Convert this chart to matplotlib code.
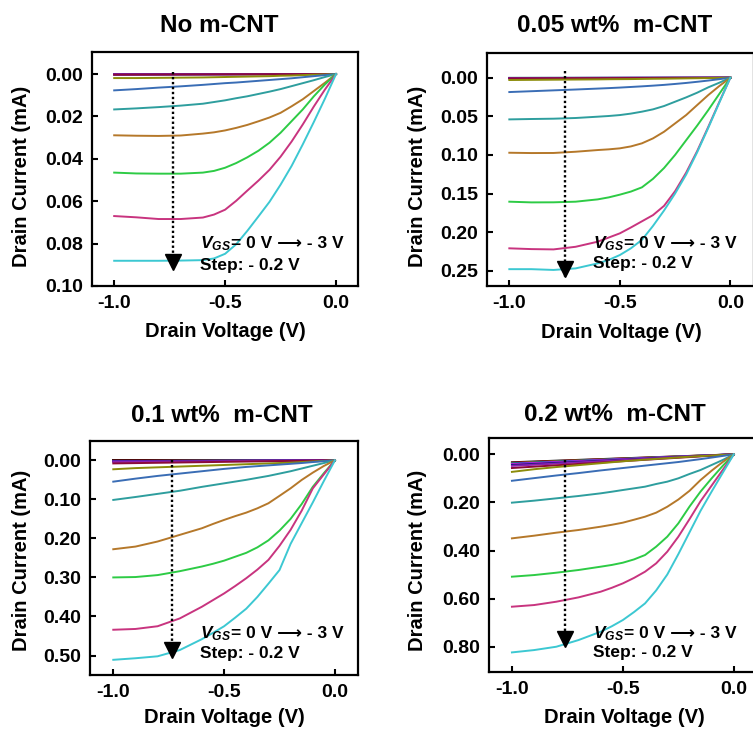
import matplotlib
matplotlib.use("Agg")
import matplotlib.pyplot as plt
from matplotlib.transforms import offset_copy

# 字体: Arial 风格粗体
plt.rcParams["font.family"] = ["Liberation Sans", "DejaVu Sans"]
plt.rcParams["font.weight"] = "bold"
plt.rcParams["axes.unicode_minus"] = False
plt.rcParams["mathtext.fontset"] = "custom"
plt.rcParams["mathtext.it"] = "Liberation Sans:italic:bold"
plt.rcParams["mathtext.rm"] = "Liberation Sans:bold"

# drain voltage grid (V)
vd = [-1.0, -0.9, -0.8, -0.7, -0.6, -0.55, -0.5, -0.45, -0.4, -0.35, -0.3, -0.25, -0.2, -0.15, -0.1, -0.05, 0.0]
vd_ends = [-1.0, 0.0]

titles = ["No m-CNT", "0.05 wt%  m-CNT", "0.1 wt%  m-CNT", "0.2 wt%  m-CNT"]

# VGS = 0 ~ -1.4 V: nearly flat curves, current at Vd = -1 V (mA)
p1_leak = [0.0, 0.0, 0.0001, 0.0001, 0.0001, 0.0002, 0.0002, 0.0003]
p2_leak = [0.0, 0.0, 0.0002, 0.0003, 0.0004, 0.0005, 0.0006, 0.0010]
p3_leak = [0.0, 0.001, 0.002, 0.002, 0.003, 0.003, 0.004, 0.008]
p4_leak = [0.033, 0.035, 0.037, 0.039, 0.041, 0.044, 0.048, 0.057]

# No m-CNT, VGS = -1.8 ... -3.0 V (mA)
p1_vg18 = [0.0019, 0.0019, 0.0018, 0.0017, 0.0016, 0.0015, 0.0014, 0.0013, 0.0012, 0.0011, 0.0010, 0.0008, 0.0007, 0.0005, 0.0003, 0.0002, 0.0]
p1_vg20 = [0.0077, 0.0071, 0.0064, 0.0058, 0.0051, 0.0047, 0.0043, 0.0040, 0.0036, 0.0032, 0.0028, 0.0024, 0.0020, 0.0015, 0.0010, 0.0005, 0.0]
p1_vg22 = [0.0167, 0.0162, 0.0156, 0.0149, 0.0140, 0.0132, 0.0124, 0.0114, 0.0105, 0.0094, 0.0083, 0.0071, 0.0057, 0.0043, 0.0029, 0.0014, 0.0]
p1_vg24 = [0.0289, 0.0291, 0.0292, 0.0290, 0.0281, 0.0275, 0.0266, 0.0254, 0.0240, 0.0223, 0.0205, 0.0183, 0.0152, 0.0119, 0.0080, 0.0041, 0.0]
p1_vg26 = [0.0465, 0.0469, 0.0470, 0.0470, 0.0465, 0.0457, 0.0442, 0.0420, 0.0393, 0.0362, 0.0324, 0.0277, 0.0222, 0.0167, 0.0105, 0.0049, 0.0]
p1_vg28 = [0.0670, 0.0676, 0.0684, 0.0684, 0.0677, 0.0663, 0.0640, 0.0598, 0.0550, 0.0503, 0.0452, 0.0390, 0.0318, 0.0238, 0.0153, 0.0073, 0.0]
p1_vg30 = [0.0881, 0.0881, 0.0881, 0.0880, 0.0878, 0.0870, 0.0848, 0.0803, 0.0740, 0.0672, 0.0603, 0.0522, 0.0433, 0.0332, 0.0226, 0.0116, 0.0]

# 0.05 wt% m-CNT
p2_vg18 = [0.0030, 0.0028, 0.0026, 0.0024, 0.0022, 0.0020, 0.0019, 0.0018, 0.0016, 0.0014, 0.0013, 0.0011, 0.0009, 0.0007, 0.0005, 0.0002, 0.0]
p2_vg20 = [0.0186, 0.0175, 0.0164, 0.0153, 0.0141, 0.0135, 0.0128, 0.0120, 0.0112, 0.0103, 0.0093, 0.0081, 0.0068, 0.0053, 0.0037, 0.0019, 0.0]
p2_vg22 = [0.0540, 0.0535, 0.0531, 0.0522, 0.0505, 0.0496, 0.0484, 0.0465, 0.0440, 0.0410, 0.0367, 0.0311, 0.0255, 0.0194, 0.0125, 0.0065, 0.0]
p2_vg24 = [0.0972, 0.0976, 0.0975, 0.0959, 0.0937, 0.0928, 0.0915, 0.0890, 0.0850, 0.0786, 0.0700, 0.0592, 0.0484, 0.0354, 0.0225, 0.0108, 0.0]
p2_vg26 = [0.1606, 0.1615, 0.1614, 0.1606, 0.1576, 0.1550, 0.1515, 0.1475, 0.1420, 0.1310, 0.1170, 0.1000, 0.0810, 0.0620, 0.0420, 0.0210, 0.0]
p2_vg28 = [0.2210, 0.2220, 0.2224, 0.2190, 0.2124, 0.2070, 0.2016, 0.1940, 0.1860, 0.1780, 0.1660, 0.1470, 0.1230, 0.0950, 0.0638, 0.0315, 0.0]
p2_vg30 = [0.2480, 0.2480, 0.2490, 0.2470, 0.2405, 0.2360, 0.2297, 0.2210, 0.2100, 0.1920, 0.1720, 0.1500, 0.1255, 0.0965, 0.0650, 0.0323, 0.0]

# 0.1 wt% m-CNT
p3_vg18 = [0.023, 0.020, 0.018, 0.016, 0.014, 0.013, 0.012, 0.011, 0.010, 0.009, 0.008, 0.007, 0.006, 0.0045, 0.003, 0.0015, 0.0]
p3_vg20 = [0.0547, 0.047, 0.040, 0.034, 0.028, 0.025, 0.022, 0.0195, 0.017, 0.015, 0.013, 0.011, 0.009, 0.007, 0.0045, 0.0022, 0.0]
p3_vg22 = [0.1015, 0.094, 0.086, 0.078, 0.068, 0.0635, 0.059, 0.0545, 0.050, 0.045, 0.040, 0.034, 0.028, 0.021, 0.014, 0.007, 0.0]
p3_vg24 = [0.2278, 0.221, 0.208, 0.191, 0.174, 0.163, 0.1527, 0.143, 0.134, 0.123, 0.110, 0.091, 0.0717, 0.0503, 0.0316, 0.0145, 0.0]
p3_vg26 = [0.300, 0.299, 0.294, 0.284, 0.272, 0.265, 0.257, 0.247, 0.237, 0.223, 0.205, 0.180, 0.150, 0.112, 0.068, 0.033, 0.0]
p3_vg28 = [0.434, 0.432, 0.425, 0.405, 0.375, 0.358, 0.341, 0.322, 0.302, 0.280, 0.255, 0.219, 0.178, 0.129, 0.072, 0.036, 0.0]
p3_vg30 = [0.511, 0.507, 0.502, 0.486, 0.458, 0.442, 0.425, 0.403, 0.380, 0.350, 0.316, 0.281, 0.214, 0.161, 0.108, 0.053, 0.0]

# 0.2 wt% m-CNT
p4_vg18 = [0.073, 0.062, 0.053, 0.045, 0.037, 0.033, 0.029, 0.0255, 0.022, 0.019, 0.016, 0.013, 0.010, 0.0075, 0.005, 0.0025, 0.0]
p4_vg20 = [0.110, 0.099, 0.088, 0.078, 0.067, 0.062, 0.057, 0.052, 0.047, 0.042, 0.037, 0.032, 0.026, 0.020, 0.0135, 0.0068, 0.0]
p4_vg22 = [0.201, 0.1927, 0.183, 0.1733, 0.1622, 0.1555, 0.1484, 0.1415, 0.1345, 0.1234, 0.1137, 0.0998, 0.0818, 0.0652, 0.0444, 0.0236, 0.0]
p4_vg24 = [0.3494, 0.3383, 0.3258, 0.3147, 0.3009, 0.293, 0.2842, 0.272, 0.2593, 0.2426, 0.218, 0.188, 0.152, 0.107, 0.068, 0.032, 0.0]
p4_vg26 = [0.5088, 0.502, 0.4922, 0.481, 0.4672, 0.460, 0.4506, 0.437, 0.4187, 0.384, 0.3425, 0.287, 0.2177, 0.155, 0.100, 0.048, 0.0]
p4_vg28 = [0.6336, 0.6267, 0.6128, 0.5948, 0.5712, 0.555, 0.5366, 0.514, 0.488, 0.4534, 0.4049, 0.3425, 0.270, 0.195, 0.130, 0.065, 0.0]
p4_vg30 = [0.8236, 0.8139, 0.800, 0.7723, 0.7376, 0.715, 0.689, 0.656, 0.6198, 0.566, 0.500, 0.415, 0.325, 0.235, 0.155, 0.077, 0.0]

# y ticks (mA)
p1_yticks = [0.00, 0.02, 0.04, 0.06, 0.08, 0.10]
p2_yticks = [0.00, 0.05, 0.10, 0.15, 0.20, 0.25]
p3_yticks = [0.00, 0.10, 0.20, 0.30, 0.40, 0.50]
p4_yticks = [0.00, 0.20, 0.40, 0.60, 0.80]
xticks = [-1.0, -0.5, 0.0]

# 箭头 (VGS 扫描方向): x, 起点, 终点
arrow_x = [-0.737, -0.747, -0.733, -0.76]
arrow_start = [-0.001, -0.009, 0.0, 0.024]
arrow_end = [0.0925, 0.258, 0.507, 0.8025]

leak_colors = ["#000000", "#e8141c", "#1aa83a", "#2233dd", "#e020e0", "#1a1a80", "#8a20b0", "#8b0a3a"]
on_colors = ["#8c8c0a", "#3a6db5", "#2e9e9e", "#b5782a", "#2dcb45", "#c8347f", "#3cc8d2"]

W, H = 753, 730
fig = plt.figure(figsize=(W / 100, H / 100), dpi=100)


def px_rect(l, t, r, b):
    return [l / W, 1 - b / H, (r - l) / W, (b - t) / H]


# 布局 (像素)
boxes = [(92, 52, 358, 286), (487, 53.3, 754, 286), (90, 440.7, 358, 675), (489.3, 437.7, 756, 671.5)]
xlims = [(-1.10, 0.099), (-1.101, 0.107), (-1.105, 0.104), (-1.102, 0.10)]
ylims = [(0.100, -0.0104), (0.2698, -0.0316), (0.5499, -0.0502), (0.903, -0.0691)]
title_pos = [(219, 31.7), (615, 32.3), (221.7, 421.7), (615, 420.7)]
ylabel_pos = [(22, 176.7), (418, 176.7), (22, 560.5), (418, 560.8)]
xlabel_pos = [(225.7, 337.3), (621.7, 338), (224, 723.3), (624, 723.3)]
note_pos = [(0.405, 0.162, 0.068), (0.398, 0.162, 0.076), (0.41, 0.157, 0.071), (0.388, 0.142, 0.063)]

leaks = [p1_leak, p2_leak, p3_leak, p4_leak]
curves = [
    [p1_vg18, p1_vg20, p1_vg22, p1_vg24, p1_vg26, p1_vg28, p1_vg30],
    [p2_vg18, p2_vg20, p2_vg22, p2_vg24, p2_vg26, p2_vg28, p2_vg30],
    [p3_vg18, p3_vg20, p3_vg22, p3_vg24, p3_vg26, p3_vg28, p3_vg30],
    [p4_vg18, p4_vg20, p4_vg22, p4_vg24, p4_vg26, p4_vg28, p4_vg30],
]
yticks_all = [p1_yticks, p2_yticks, p3_yticks, p4_yticks]

for i in range(4):
    ax = fig.add_axes(px_rect(*boxes[i]))

    for val, c in zip(leaks[i], leak_colors):
        ax.plot(vd_ends, [val, 0.0], color=c, lw=1.4)
    for ys, c in zip(curves[i], on_colors):
        ax.plot(vd, ys, color=c, lw=1.4)

    # 虚线箭头
    ax.plot([arrow_x[i], arrow_x[i]], [arrow_start[i], arrow_end[i]],
            color="k", lw=1.7, linestyle=(0, (1, 1.1)))
    ms = 11.5
    head_tr = offset_copy(ax.transData, fig=fig, x=0, y=ms / 2, units="points")
    ax.plot([arrow_x[i]], [arrow_end[i]], marker="v", ms=ms, color="k",
            transform=head_tr, clip_on=False)

    ax.set_xlim(*xlims[i])
    ax.set_ylim(*ylims[i])
    ax.set_xticks(xticks)
    ax.set_xticklabels([f"{v:.1f}" for v in xticks])
    ax.set_yticks(yticks_all[i])
    ax.set_yticklabels([f"{v:.2f}" for v in yticks_all[i]])
    ax.tick_params(direction="in", length=4, width=1.5, labelsize=14, pad=6.5,
                   top=False, right=False)
    for sp in ax.spines.values():
        sp.set_linewidth(1.6)

    # VGS 注释: 斜体 V_GS + 长箭头 (DejaVu 兜底)
    nx, ny1, ny2 = note_pos[i]
    vgs = ax.text(nx, ny1, r"$V_{GS}$", transform=ax.transAxes,
                  fontsize=12.5, va="baseline", ha="left")
    ax.annotate("= 0 V \u27f6 - 3 V", xy=(1.0, ny1), xycoords=(vgs, "axes fraction"),
                fontsize=12.5, va="baseline", ha="left",
                family=["Liberation Sans", "DejaVu Sans"])
    ax.text(nx, ny2, "Step: - 0.2 V", transform=ax.transAxes,
            fontsize=12.5, va="baseline", ha="left")

    tx, ty = title_pos[i]
    fig.text(tx / W, 1 - ty / H, titles[i], fontsize=17.5, ha="center", va="baseline")
    lx, ly = ylabel_pos[i]
    fig.text(lx / W, 1 - ly / H, "Drain Current (mA)", fontsize=14.5, rotation=90,
             ha="center", va="center")
    bx, by = xlabel_pos[i]
    fig.text(bx / W, 1 - by / H, "Drain Voltage (V)", fontsize=14.5, ha="center", va="baseline")

fig.savefig("out.png", dpi=100)
